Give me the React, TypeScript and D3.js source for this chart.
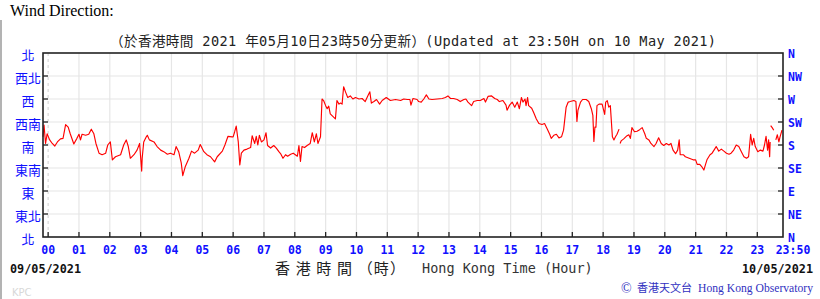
import React from "react";
import * as d3 from "d3";

const hourLabels = ["00","01","02","03","04","05","06","07","08","09","10","11","12","13","14","15","16","17","18","19","20","21","22","23"];
const dirLevels = [0, 45, 90, 135, 180, 225, 270, 315, 360];
const leftLabels = ["北","東北","東","東南","南","西南","西","西北","北"];
const rightLabels = ["N","NE","E","SE","S","SW","W","NW","N"];

// minutes since 00:00 on 10/05/2021 (negative = previous day), wind direction in degrees (null = gap)
const minutes = [
  -10,-8,-5,-2,3,8,13,18,24,29,34,39,43,50,56,60,63,66,73,79,84,89,93,99,105,112,116,121,125,131,141,147,152,156,160,167,173,178,182,183,186,191,193,197,206,212,219,225,232,238,245,249,254,259,262,267,274,279,285,292,296,303,309,316,324,329,339,344,350,358,
  360,363,366,370,373,376,381,387,394,397,402,405,408,411,415,420,424,427,433,439,444,449,453,457,462,466,472,477,481,485,488,491,494,499,504,510,514,518,522,525,530,533,536,540,543,546,549,555,559,562,566,569,572,575,579,583,588,593,598,605,611,617,622,626,629,634,639,645,650,658,666,676,686,692,699,704,706,710,718,
  721,726,731,736,741,747,757,767,773,778,783,789,796,802,809,813,817,824,828,835,841,848,851,856,863,869,874,878,885,891,893,898,903,908,913,917,921,924,928,930,933,935,941,945,950,955,961,966,971,976,979,984,989,994,999,1003,1008,1012,1016,1023,1027,1029,1031,1036,1040,1047,1052,1057,1060,1062,1064,1066,1068,1072,1078,
  1083,1085,1088,1091,1094,1098,1101,1104,1107,1111,1112,1113,1115,1120,1125,1130,1133,1136,1141,1146,1151,1156,1161,1164,1169,1173,1179,1183,1188,1193,1198,1203,1208,1212,1216,1221,1225,1228,1230,1236,1240,1245,1250,1255,1260,1263,1268,1273,1276,1279,1282,1288,1292,1297,1300,1305,1310,1315,1320,1325,1329,1334,1339,1344,1349,1354,1359,1363,1367,1370,1373,1376,1381,1386,1391,1394,1397,1400,1402,1404,1405,1405.5,1406,1409,1412,1414,1416,1419,1422,1424,1428
];
const directions: (number | null)[] = [
  196,219,183,202,190,183,178,186,192,193,220,215,202,182,193,201,190,201,199,201,211,202,183,164,161,164,180,186,151,157,161,180,190,177,154,161,170,183,129,154,186,196,199,190,186,177,170,167,162,164,161,177,167,145,120,138,154,168,164,170,181,167,161,157,147,157,168,180,197,196,
  196,206,217,186,141,164,170,172,175,198,183,197,180,199,186,190,204,179,174,179,174,167,162,154,161,158,162,164,161,158,179,148,177,175,179,183,204,186,202,183,196,270,267,257,251,256,241,235,231,267,260,262,260,294,283,273,276,270,273,270,271,265,276,284,262,265,269,260,267,273,267,269,267,270,269,269,258,271,269,
  265,264,270,278,270,269,270,271,273,276,271,271,269,265,269,270,264,257,265,267,267,271,264,275,276,271,269,265,267,258,248,258,264,254,264,251,273,264,270,257,273,257,252,243,231,222,220,222,212,201,193,199,201,194,196,209,254,264,265,267,265,226,248,264,269,269,265,251,238,187,215,215,257,260,260,
  240,264,267,254,257,196,190,196,201,211,null,183,188,192,197,200,193,214,206,207,210,214,202,193,190,183,177,183,194,183,179,183,180,183,170,163,170,190,161,161,157,155,153,151,151,142,142,136,131,141,151,161,164,172,177,168,172,168,164,162,164,170,180,177,167,157,154,157,201,180,193,177,167,170,168,180,197,170,190,157,186,null,218,214,209,null,190,200,186,195,209
];

const W = 820, H = 299;
const L = 43, R = 783, T = 53, B = 237;
const BLUE = "#1010ff";

export default function App() {
  const x = d3.scaleLinear().domain([-10, 1430]).range([L, R]);
  const y = d3.scaleLinear().domain([0, 360]).range([B, T]);
  const pts = minutes.map((m, i) => ({ m, d: directions[i] }));
  const line = d3
    .line<{ m: number; d: number | null }>()
    .defined((p) => p.d !== null)
    .x((p) => x(p.m))
    .y((p) => y(p.d as number));
  const hours = hourLabels.map((_, i) => i);
  const mono = "'DejaVu Sans Mono', 'Liberation Mono', monospace";

  return (
    <div style={{ position: "absolute", left: 0, top: 0 }}>
      <svg width={W} height={H} style={{ display: "block", background: "#fff" }}>
        <line x1={1} x2={1} y1={20} y2={H} stroke="#9a9a9a" strokeWidth={1.5} />
        <text x={10} y={16} fontFamily="'Liberation Serif', 'Times New Roman', serif" fontSize={16} fill="#000">
          Wind Direction:
        </text>
        <text x={110} y={46} fontFamily={"'DejaVu Sans Mono', 'Noto Sans CJK TC', monospace"} fontSize={13.6} fill="#222"
          textLength={606} lengthAdjust="spacing">
          （於香港時間 2021 年05月10日23時50分更新）(Updated at 23:50H on 10 May 2021)
        </text>

        {/* grid */}
        {hours.map((h) => (
          <line key={"vg" + h} x1={x(h * 60)} x2={x(h * 60)} y1={T} y2={B}
            stroke={h === 0 ? "#d8d8d8" : "#e6e6e6"} strokeWidth={1.2}
            strokeDasharray={h === 0 ? "3,3" : undefined} />
        ))}
        {dirLevels.slice(1, -1).map((v) => (
          <line key={"hg" + v} x1={L} x2={R} y1={y(v)} y2={y(v)} stroke="#e6e6e6" strokeWidth={1.2} />
        ))}

        {/* data */}
        <path d={line(pts) || ""} fill="none" stroke="#ff0000" strokeWidth={1.15} strokeLinejoin="round" />

        {/* frame */}
        <rect x={L} y={T} width={R - L} height={B - T} fill="none" stroke="#222" strokeWidth={1.6} />

        {/* ticks */}
        {dirLevels.slice(1, -1).map((v) => (
          <g key={"t" + v}>
            <line x1={L} x2={L + 5} y1={y(v)} y2={y(v)} stroke="#222" strokeWidth={1.3} />
            <line x1={R - 5} x2={R} y1={y(v)} y2={y(v)} stroke="#222" strokeWidth={1.3} />
          </g>
        ))}
        {hours.map((h) => (
          <line key={"bt" + h} x1={x(h * 60)} x2={x(h * 60)} y1={B - 5} y2={B} stroke="#222" strokeWidth={1.3} />
        ))}

        {/* left labels */}
        {dirLevels.map((v, i) => (
          <text key={"ll" + i} x={28} y={y(v) + 1} textAnchor="middle" dominantBaseline="central"
            fontFamily="'Noto Sans CJK TC', sans-serif" fontSize={13} fill={BLUE}>
            {leftLabels[i]}
          </text>
        ))}
        {/* right labels */}
        {dirLevels.map((v, i) => (
          <text key={"rl" + i} x={788} y={y(v) + 1} dominantBaseline="central"
            fontFamily={mono} fontWeight="bold" fontSize={11.5} fill={BLUE}>
            {rightLabels[i]}
          </text>
        ))}
        {/* hour labels */}
        {hours.map((h) => (
          <text key={"hl" + h} x={x(h * 60)} y={254} textAnchor="middle"
            fontFamily={mono} fontWeight="bold" fontSize={11.5} fill={BLUE}>
            {hourLabels[h]}
          </text>
        ))}
        <text x={793} y={254} textAnchor="middle" fontFamily={mono} fontWeight="bold" fontSize={11.5} fill={BLUE}>
          23:50
        </text>

        <text x={10} y={273} fontFamily={mono} fontWeight="bold" fontSize={11.8} fill="#111">09/05/2021</text>
        <text x={813} y={273} textAnchor="end" fontFamily={mono} fontWeight="bold" fontSize={11.8} fill="#111">10/05/2021</text>

        <text x={275} y={274} fontFamily="'Noto Sans CJK TC', serif" fontSize={15} fill="#222" textLength={130} lengthAdjust="spacing">
          香 港 時 間 （時）
        </text>
        <text x={422} y={273} fontFamily={mono} fontSize={13.5} fill="#333">
          Hong Kong Time (Hour)
        </text>

        <text x={12} y={296} fontFamily="'DejaVu Sans', sans-serif" fontSize={10} fill="#d8d8d8">KPC</text>

        <text x={621} y={293} fontFamily="'Liberation Serif', serif" fontSize={14} fill="#3030c0">©</text>
        <text x={637} y={292} fontFamily="'Noto Sans CJK TC', serif" fontSize={11} fill="#3030c0">香港天文台</text>
        <text x={698} y={292} fontFamily="'Liberation Serif', serif" fontSize={13} fill="#3030c0"
          textLength={115} lengthAdjust="spacingAndGlyphs">
          Hong Kong Observatory
        </text>
      </svg>
    </div>
  );
}
